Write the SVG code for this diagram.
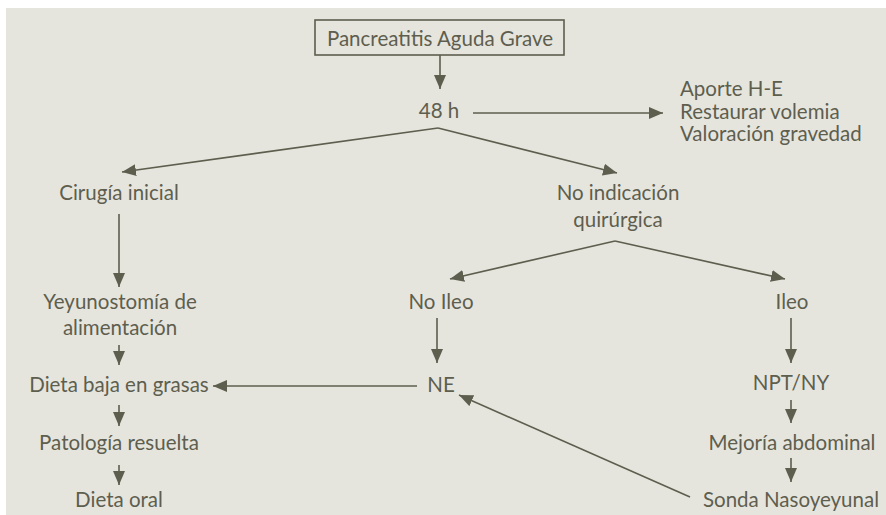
<svg xmlns="http://www.w3.org/2000/svg" width="886" height="515" viewBox="0 0 886 515">
  <defs>
    <marker id="arrow" markerUnits="userSpaceOnUse" markerWidth="14" markerHeight="12" viewBox="0 0 14 12" refX="14" refY="6" orient="auto">
      <path d="M0,0 L14,6 L0,12 Z" fill="#5e5e4e"/>
    </marker>
    <style>
      .lbl { font-family: Lato, "Open Sans", "Liberation Sans", sans-serif; font-size: 20.5px; fill: #5e5e4e; text-anchor: middle; }
      .lft { text-anchor: start; }
      .edge { stroke: #5e5e4e; stroke-width: 1.6; fill: none; marker-end: url(#arrow); }
    </style>
  </defs>

  <!-- panel -->
  <rect x="0" y="0" width="886" height="515" fill="#ffffff"/>
  <rect x="6" y="8" width="880" height="507" fill="#e5e5de"/>

  <!-- connectors -->
  <g id="connectors">
    <line class="edge" x1="440" y1="55" x2="440" y2="89"/>
    <line class="edge" x1="473" y1="113" x2="663" y2="113"/>
    <line class="edge" x1="438" y1="128" x2="122" y2="172"/>
    <line class="edge" x1="438" y1="128" x2="617" y2="173"/>
    <line class="edge" x1="119" y1="214" x2="119" y2="287"/>
    <line class="edge" x1="119" y1="345" x2="119" y2="365"/>
    <line class="edge" x1="417" y1="386" x2="213" y2="386"/>
    <line class="edge" x1="119" y1="405" x2="119" y2="426"/>
    <line class="edge" x1="119" y1="465" x2="119" y2="485"/>
    <line class="edge" x1="615" y1="241" x2="450" y2="279"/>
    <line class="edge" x1="615" y1="241" x2="785" y2="279"/>
    <line class="edge" x1="437" y1="318" x2="437" y2="363"/>
    <line class="edge" x1="791" y1="318" x2="791" y2="363"/>
    <line class="edge" x1="791" y1="400" x2="791" y2="423"/>
    <line class="edge" x1="791" y1="458" x2="791" y2="482"/>
    <line class="edge" x1="690" y1="497" x2="459" y2="395"/>
  </g>

  <!-- nodes -->
  <g id="n-pag">
    <rect x="315" y="20" width="249" height="35" fill="none" stroke="#5e5e4e" stroke-width="1.6"/>
    <text class="lbl" x="440" y="46">Pancreatitis Aguda Grave</text>
  </g>
  <g id="n-48h">
    <text class="lbl" x="439" y="118">48 h</text>
  </g>
  <g id="n-medidas">
    <text class="lbl lft" x="680" y="96">Aporte H-E</text>
    <text class="lbl lft" x="680" y="119">Restaurar volemia</text>
    <text class="lbl lft" x="680" y="141">Valoración gravedad</text>
  </g>
  <g id="n-cirugia">
    <text class="lbl" x="119" y="200">Cirugía inicial</text>
  </g>
  <g id="n-noindicacion">
    <text class="lbl" x="618" y="200">No indicación</text>
    <text class="lbl" x="618" y="227">quirúrgica</text>
  </g>
  <g id="n-yeyunostomia">
    <text class="lbl" x="120" y="309">Yeyunostomía de</text>
    <text class="lbl" x="120" y="335">alimentación</text>
  </g>
  <g id="n-dietabaja">
    <text class="lbl" x="119" y="392">Dieta baja en grasas</text>
  </g>
  <g id="n-patologia">
    <text class="lbl" x="119" y="450">Patología resuelta</text>
  </g>
  <g id="n-dietaoral">
    <text class="lbl" x="119" y="507">Dieta oral</text>
  </g>
  <g id="n-noileo">
    <text class="lbl" x="441" y="309">No Ileo</text>
  </g>
  <g id="n-ne">
    <text class="lbl" x="441" y="392">NE</text>
  </g>
  <g id="n-ileo">
    <text class="lbl" x="792" y="309">Ileo</text>
  </g>
  <g id="n-npt">
    <text class="lbl" x="791" y="390">NPT/NY</text>
  </g>
  <g id="n-mejoria">
    <text class="lbl" x="792" y="450">Mejoría abdominal</text>
  </g>
  <g id="n-sonda">
    <text class="lbl" x="791" y="507">Sonda Nasoyeyunal</text>
  </g>
</svg>
